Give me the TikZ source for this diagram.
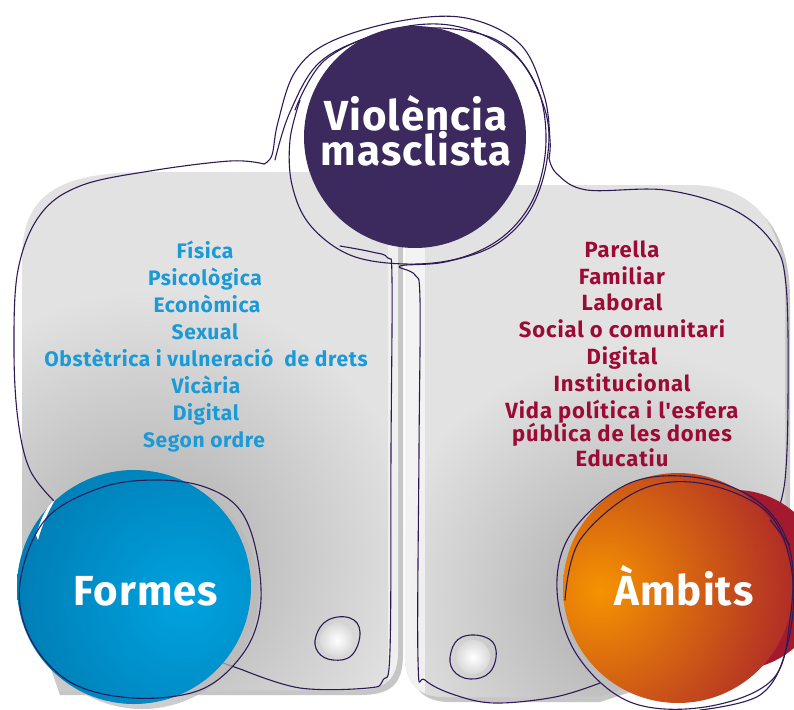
\documentclass[tikz,border=0pt]{standalone}
\usepackage{fontspec}
\setmainfont{Fira Sans}
\newfontfamily\leftfont{Fira Sans}[LetterSpace=3.0]
\newfontfamily\rightfont{Fira Sans}[LetterSpace=4.0]
\newfontfamily\bigfont{Fira Sans}[LetterSpace=2.5]
\definecolor{cardgray}{HTML}{E2E2E2}
\definecolor{carddark}{HTML}{ABABAB}
\definecolor{purplefill}{HTML}{3C2A5E}
\definecolor{lineviolet}{HTML}{2E1B56}
\definecolor{formblue}{HTML}{1A9AD7}
\definecolor{ambitred}{HTML}{9C0B35}
\definecolor{blueL}{HTML}{00A3E0}
\definecolor{blueD}{HTML}{0077AE}
\definecolor{orangeL}{HTML}{F59300}
\definecolor{redD}{HTML}{A3192E}
\tikzset{
  outline/.style={draw=lineviolet, line width=1.1pt, line join=round, line cap=round},
  leftitem/.style={anchor=base, text=formblue, inner sep=0pt, font=\leftfont\bfseries\fontsize{21}{24}\selectfont},
  rightitem/.style={anchor=base, text=ambitred, inner sep=0pt, font=\rightfont\bfseries\fontsize{22}{24}\selectfont},
  bigtitle/.style={anchor=base, text=white, inner sep=0pt, text height=31pt, text depth=0pt, font=\bigfont\bfseries\fontsize{42}{44}\selectfont},
  circtitle/.style={anchor=base, text=white, inner sep=0pt, font=\bigfont\bfseries\fontsize{42}{44}\selectfont},
}
\begin{document}
\begin{tikzpicture}[x=1pt,y=-1pt]
\useasboundingbox (0,0) rectangle (794,709);
\fill[white] (0,0) rectangle (794,709);

% ---- card shadows
\fill[gray!45] (27,262) .. controls (27,195) and (70,177) .. (155,177) -- (403,177) -- (403,655) .. controls (403,685) and (390,695) .. (360,695) -- (60,695) -- (27,600) -- cycle;
\fill[gray!45] (410,190) -- (690,190) .. controls (760,190) and (790,230) .. (790,300) -- (790,640) -- (600,702) -- (450,702) .. controls (425,702) and (410,690) .. (410,660) -- cycle;

% ---- left card
\begin{scope}
\clip (22,258) .. controls (22,190) and (65,172) .. (150,172) -- (398,172) -- (398,650) .. controls (398,680) and (385,690) .. (355,690) -- (60,690) -- (22,600) -- cycle;
\fill[cardgray] (0,150) rectangle (400,709);
\shade[inner color=carddark, outer color=cardgray] (150,560) circle (270);
\fill[white, opacity=0.5] (388,172) rectangle (398,690);
\end{scope}

% ---- right card
\begin{scope}
\clip (405,185) -- (690,185) .. controls (755,185) and (785,225) .. (785,295) -- (785,640) -- (600,697) -- (445,697) .. controls (420,697) and (405,685) .. (405,655) -- cycle;
\fill[cardgray] (400,170) rectangle (794,709);
\shade[inner color=carddark, outer color=cardgray] (630,600) circle (250);
\fill[white, opacity=0.6] (405,185) rectangle (425,697);
\end{scope}

% ---- holes
\shade[inner color=white, outer color=gray!30] (337,640) circle (17);
\shade[inner color=white, outer color=gray!30] (473,657) circle (17);

% ---- violet outlines
\draw[outline] plot[smooth, tension=0.6] coordinates {(55,502) (30,470) (18,420) (14,350) (18,270) (40,215) (80,186) (150,171) (230,161) (264,164)};
\draw[outline] plot[smooth, tension=0.6] coordinates {(264,164) (272,155) (278,122) (295,72) (330,42) (400,21) (466,18) (520,44) (544,95) (550,140) (549,158)};
\draw[outline] plot[smooth, tension=0.6] coordinates {(549,158) (557,174) (587,190) (665,190) (732,209) (772,242) (786,285) (788,400) (785,480) (776,516)};
\draw[outline] plot[smooth, tension=0.6] coordinates {(275,160) (290,112) (320,62) (375,36) (440,28) (500,42) (536,85) (546,140) (535,195) (505,235) (460,258) (405,264) (350,255) (310,225) (292,185) (290,140) (300,100)};
\draw[outline] plot[smooth, tension=0.6] coordinates {(295,110) (325,60) (390,30) (455,26) (515,55) (545,110) (547,160) (530,210) (495,245) (445,262) (400,266) (415,275) (420,300) (419,450) (418,660) (425,680) (455,695) (495,703) (555,697) (600,683)};
\draw[outline] plot[smooth, tension=0.6] coordinates {(340,246) (372,252) (388,258) (392,280) (391,450) (390,650) (383,680) (368,688) (300,688) (243,670)};
\draw[outline] (223,663) -- (243,670);

% ---- title circle
\fill[purplefill] (415,137) circle (111);

% ---- Formes circle
\fill[gray!55, opacity=0.7] (142,592) circle (117);
\begin{scope}
\clip (134,587) circle (117);
\shade[inner color=blueL, outer color=blueD] (185,600) circle (200);
\end{scope}
\fill[white] (36,535) .. controls (42,515) and (48,505) .. (55,500) .. controls (48,512) and (42,525) .. (38,540) -- cycle;
\draw[outline] plot[smooth cycle, tension=0.6] coordinates {(20,583) (45,520) (100,488) (155,480) (205,487) (240,510) (257,555) (260,610) (242,655) (200,690) (133,698) (70,682) (30,638)};

% ---- Ambits circle
\fill[redD] (735,580) circle (90);
\begin{scope}
\clip (678,588) circle (115);
\shade[inner color=orangeL, outer color=redD] (600,590) circle (230);
\end{scope}
\draw[outline] plot[smooth cycle, tension=0.6] coordinates {(557,590) (572,532) (630,483) (700,478) (760,503) (790,550) (790,620) (772,680) (705,707) (630,702) (577,655)};
\draw[outline] plot[smooth, tension=0.6] coordinates {(565,600) (580,540) (640,490) (705,484) (770,515) (793,580) (786,650) (760,695) (700,710)};
\draw[outline] (770,520) -- (790,545);

% ---- hole outlines
\draw[outline] plot[smooth cycle, tension=0.7] coordinates {(316,636) (328,620) (350,618) (360,632) (352,655) (333,660) (318,652)};
\draw[outline] plot[smooth cycle, tension=0.7] coordinates {(451,652) (462,637) (485,637) (496,650) (490,672) (470,679) (453,670)};

% ---- texts
\node[bigtitle] (title1) at (416,130) {Violència};
\node[bigtitle] (title2) at (416,165) {masclista};
\node[circtitle] (formes) at (146,605) {Formes};
\node[circtitle] (ambits) at (684,605) {Àmbits};

\node[leftitem] (l1) at (205,258) {Física};
\node[leftitem] (l2) at (205,285) {Psicològica};
\node[leftitem] (l3) at (207,312) {Econòmica};
\node[leftitem] (l4) at (205,339) {Sexual};
\node[leftitem] (l5) at (206,366) {Obstètrica i vulneració\ \ de drets};
\node[leftitem] (l6) at (206,393) {Vicària};
\node[leftitem] (l7) at (206,420) {Digital};
\node[leftitem] (l8) at (204,447) {Segon ordre};

\node[rightitem] (r1) at (622,257) {Parella};
\node[rightitem] (r2) at (622,284) {Familiar};
\node[rightitem] (r3) at (622,310) {Laboral};
\node[rightitem] (r4) at (622,337) {Social o comunitari};
\node[rightitem] (r5) at (622,364) {Digital};
\node[rightitem] (r6) at (622,391) {Institucional};
\node[rightitem] (r7) at (622,418) {Vida política i l'esfera};
\node[rightitem] (r8) at (622,441) {pública de les dones};
\node[rightitem] (r9) at (622,466) {Educatiu};
\end{tikzpicture}
\end{document}
